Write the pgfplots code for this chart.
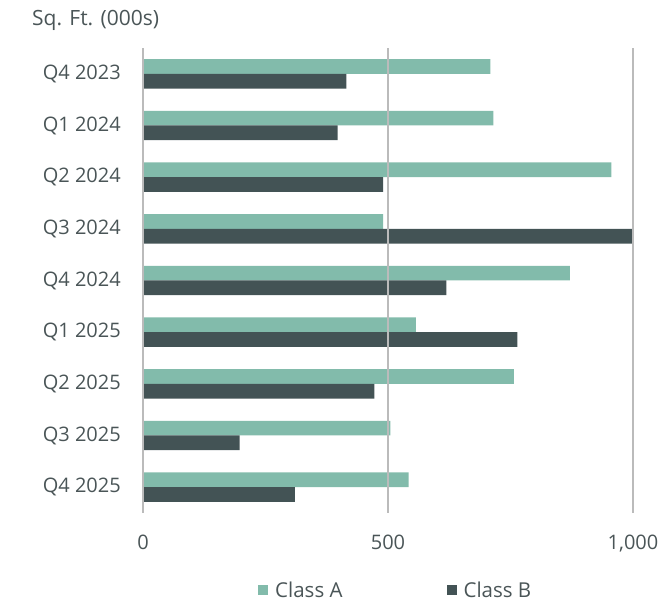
\documentclass[border=0pt]{standalone}
\usepackage{pgfplots}
\pgfplotsset{compat=1.18}
\usepackage{fontspec}
\setmainfont{Open Sans}
\definecolor{clA}{HTML}{82BBAB}
\definecolor{clB}{HTML}{435355}
\definecolor{txt}{HTML}{4A5557}
\definecolor{grd}{HTML}{BBBBBB}
\definecolor{axl}{HTML}{DDE3E3}
\begin{document}
\begin{tikzpicture}
\useasboundingbox (0pt,0pt) rectangle (659pt,600pt);
\node[anchor=west, inner sep=0pt, text=txt, font=\fontsize{21}{24}\selectfont] at (32pt,580pt) {Sq. Ft. (000s)};
\begin{axis}[at={(143pt,87pt)}, anchor=south west, scale only axis,
  width=490pt, height=465pt,
  xmin=0, xmax=1000, ymin=-0.5, ymax=8.5,
  xtick={0,500,1000}, xticklabels={0,500,{1,000}},
  ytick={0,1,2,3,4,5,6,7,8},
  yticklabels={Q4 2025,Q3 2025,Q2 2025,Q1 2025,Q4 2024,Q3 2024,Q2 2024,Q1 2024,Q4 2023},
  major tick length=0pt,
  axis line style={draw=none},
  xmajorgrids, grid style={grd, line width=1.3pt},
  axis on top,
  tick label style={text=txt, font=\fontsize{20}{22}\selectfont},
  yticklabel style={inner sep=0pt, xshift=-22pt},
  xticklabel style={inner sep=0pt, yshift=-22pt},
  /pgf/number format/assume math mode=true,
  legend columns=2,
  legend style={at={(rel axis cs:0.2347,-0.166)}, anchor=west, draw=none, fill=none,
    inner sep=0pt, font=\fontsize{20.5}{22}\selectfont, text=txt,
    /tikz/every odd column/.append style={column sep=5pt},
    /tikz/every even column/.append style={column sep=102pt}},
  legend image code/.code={\fill[#1] (0pt,-5pt) rectangle (10pt,5pt);},
]
\addplot[xbar, bar width=14.7pt, bar shift=7.35pt, fill=clA, draw=none] coordinates {
(542,0) (505,1) (757,2) (557,3) (871,4) (490,5) (956,6) (715,7) (709,8)};
\addlegendentry{Class A}
\addplot[xbar, bar width=14.7pt, bar shift=-7.35pt, fill=clB, draw=none] coordinates {
(310,0) (197,1) (472,2) (764,3) (619,4) (999,5) (490,6) (397,7) (415,8)};
\addlegendentry{Class B}
\draw[axl, line width=1.5pt] (axis cs:0,-0.5) -- (axis cs:0,8.5);
\end{axis}
\end{tikzpicture}
\end{document}
